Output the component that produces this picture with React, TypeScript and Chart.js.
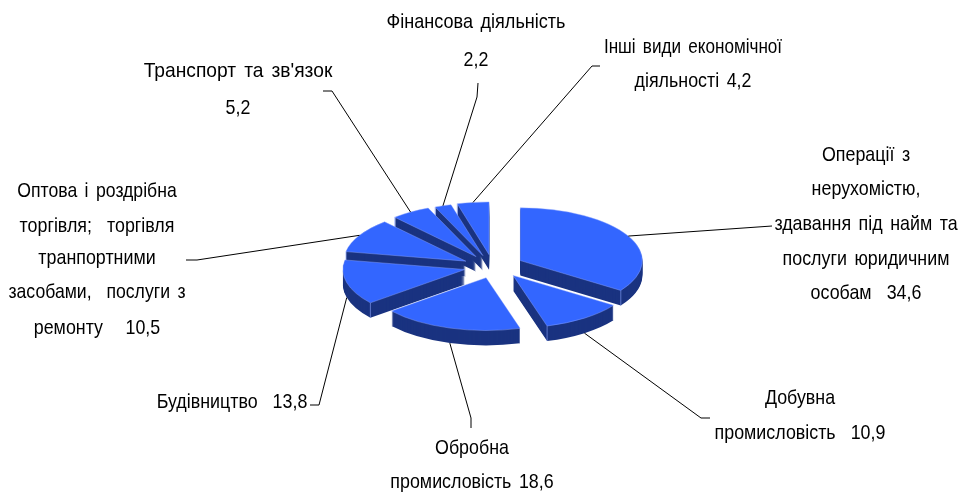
import React, { useEffect, useRef } from "react";
import { Chart, registerables } from "chart.js";

Chart.register(...registerables);

const categories = [
  "Операції з нерухомістю",
  "Добувна промисловість",
  "Обробна промисловість",
  "Будівництво",
  "Оптова і роздрібна торгівля",
  "Транспорт та зв'язок",
  "Фінансова діяльність",
  "Інші види економічної діяльності",
];
const shares = [34.6, 10.9, 18.6, 13.8, 10.5, 5.2, 2.2, 4.2];
const labelLines = [
  ["Операції з", "нерухомістю,", "здавання під найм та", "послуги юридичним", "особам  34,6"],
  ["Добувна", "промисловість  10,9"],
  ["Обробна", "промисловість 18,6"],
  ["Будівництво  13,8"],
  ["Оптова і роздрібна", "торгівля;  торгівля", "транпортними", "засобами,  послуги з", "ремонту   10,5"],
  ["Транспорт та зв'язок", "5,2"],
  ["Фінансова діяльність", "2,2"],
  ["Інші види економічної", "діяльності 4,2"],
];

const explode = [32, 30, 20, 28, 30, 30, 28, 30];
const nudge = [[0, -0.5], [3.5, -2.6], [0, 2], [0, -1], [0, 0], [0, 0], [0, -0.5], [1, 0]];
const CX = 492, CY = 267.5, K = 0.432, RADIUS = 122, DEPTH = 15;
const labelLayout = [
  { cx: 866, y: [155, 189, 224, 259, 293], sx: [0.85, 0.85, 0.85, 0.85, 0.85] },
  { cx: 800, y: [398, 433], sx: [0.85, 0.85] },
  { cx: 472, y: [448, 482], sx: [0.85, 0.85] },
  { cx: 232, y: [402], sx: [0.85] },
  { cx: 97, y: [191, 226, 258, 292, 328], sx: [0.84, 0.85, 0.85, 0.84, 0.85] },
  { cx: 238, y: [71, 108], sx: [0.915, 0.85] },
  { cx: 476, y: [22, 60], sx: [0.86, 0.85] },
  { cx: 693, y: [47, 81], sx: [0.815, 0.85] },
];
const elbows = [
  [[772, 226]],
  [[701, 418], [710, 418]],
  [[471, 418], [471, 428]],
  [[319, 405], [310, 405]],
  [[197, 260], [186, 260]],
  [[332, 91], [323, 91]],
  [[477, 97], [478, 83]],
  [[592, 66], [600, 66]],
];

const TOP = "#3366FF";
const SIDE = "#1A3380";
const EDGE = "#8FA8FF";

const pie3d = {
  id: "pie3d",
  beforeDatasetsDraw(chart: any) {
    const ctx = chart.ctx;
    const arcs = chart.getDatasetMeta(0).data;
    const { left, right, top, bottom } = chart.chartArea;
    const bx = (left + right) / 2;
    const by = (top + bottom) / 2;
    arcs.forEach((a: any, i: number) => {
      const mid = (a.startAngle + a.endAngle) / 2;
      a.x = bx + Math.cos(mid) * explode[i] + nudge[i][0];
      a.y = by + Math.sin(mid) * explode[i] + nudge[i][1] / K;
    });
    const place = (dy: number) => {
      ctx.translate(CX, CY + dy);
      ctx.scale(1, K);
      ctx.translate(-bx, -by);
    };
    arcs.forEach((a: any) => {
      const saved = a.options;
      a.options = { ...saved, backgroundColor: SIDE, borderColor: SIDE, borderWidth: 0 };
      for (let d = DEPTH; d >= 1; d--) {
        ctx.save();
        place(d);
        a.draw(ctx);
        ctx.restore();
      }
      a.options = saved;
    });
    ctx.save();
    ctx.strokeStyle = EDGE;
    ctx.lineWidth = 0.6;
    arcs.forEach((a: any) => {
      const ang = Math.cos(a.endAngle) > 0 ? a.endAngle : Math.cos(a.startAngle) < 0 ? a.startAngle : null;
      if (ang === null) return;
      const x = CX + (a.x - bx) + Math.cos(ang) * RADIUS;
      const y = CY + ((a.y - by) + Math.sin(ang) * RADIUS) * K;
      ctx.beginPath();
      ctx.moveTo(x, y);
      ctx.lineTo(x, y + DEPTH);
      ctx.stroke();
    });
    ctx.restore();
    ctx.save();
    place(0);
  },
  afterDatasetsDraw(chart: any) {
    const ctx = chart.ctx;
    ctx.restore();
    const arcs = chart.getDatasetMeta(0).data;
    ctx.save();
    ctx.strokeStyle = "#000";
    ctx.lineWidth = 1;
    arcs.forEach((a: any, i: number) => {
      const mid = (a.startAngle + a.endAngle) / 2;
      const off = explode[i];
      const x = CX + nudge[i][0] + Math.cos(mid) * (off + RADIUS);
      const sy = Math.sin(mid);
      const y = CY + nudge[i][1] + sy * (off + RADIUS) * K + (sy > 0 ? DEPTH : 0);
      ctx.beginPath();
      ctx.moveTo(x, y);
      elbows[i].forEach((p) => ctx.lineTo(p[0], p[1]));
      ctx.stroke();
    });
    ctx.fillStyle = "#000";
    ctx.font = '21px "Liberation Sans"';
    (ctx as any).wordSpacing = "3px";
    ctx.textAlign = "center";
    ctx.textBaseline = "middle";
    labelLines.forEach((lines, i) => {
      lines.forEach((t, j) => {
        ctx.save();
        ctx.translate(labelLayout[i].cx, labelLayout[i].y[j]);
        ctx.scale(labelLayout[i].sx[j], 1);
        ctx.fillText(t, 0, 0);
        ctx.restore();
      });
    });
    ctx.restore();
  },
};

export default function App() {
  const ref = useRef<HTMLCanvasElement>(null);
  useEffect(() => {
    const chart = new Chart(ref.current!, {
      type: "pie",
      data: {
        labels: categories,
        datasets: [
          {
            data: shares,
            backgroundColor: TOP,
            borderColor: EDGE,
            borderWidth: 0.6,
            clip: false,
          } as any,
        ],
      },
      options: {
        responsive: false,
        animation: false,
        radius: RADIUS,
        plugins: { legend: { display: false }, tooltip: { enabled: false } },
      } as any,
      plugins: [pie3d],
    });
    return () => chart.destroy();
  }, []);
  return <canvas ref={ref} width={958} height={492} style={{ position: "fixed", left: 0, top: 0 }} />;
}
